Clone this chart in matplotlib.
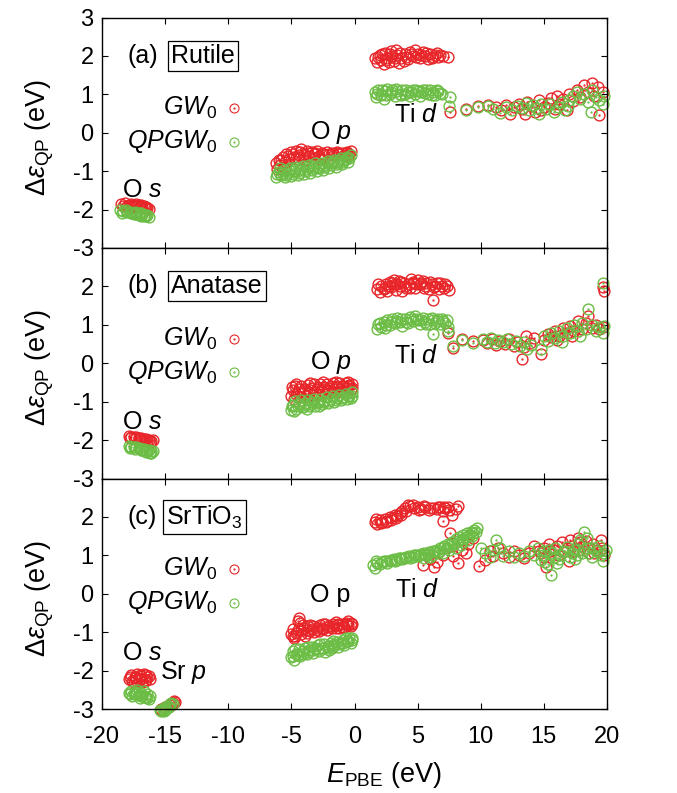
import matplotlib
matplotlib.use("Agg")
import matplotlib.pyplot as plt
import numpy as np

plt.rcParams["font.family"] = ["Liberation Sans", "DejaVu Sans"]
plt.rcParams["mathtext.fontset"] = "custom"
plt.rcParams["mathtext.rm"] = "Liberation Sans"
plt.rcParams["mathtext.it"] = "Liberation Sans:italic"
plt.rcParams["axes.unicode_minus"] = False

RED = "#e8262a"
GREEN = "#6cbd45"

# ---------------- (a) Rutile ----------------
rut_gw = [
    # O s
    (-18.5, -1.86), (-18.2, -1.84), (-17.9, -1.87), (-17.7, -1.85), (-17.5, -1.88), (-17.3, -1.86),
    (-17.1, -1.89), (-16.9, -1.87), (-16.7, -1.90), (-16.5, -1.92), (-16.4, -1.95), (-17.8, -1.92),
    (-17.4, -1.93), (-17.0, -1.94), (-16.6, -1.97), (-18.0, -1.90), (-18.3, -1.90), (-17.6, -1.90),
    (-17.2, -1.91), (-16.8, -1.93), (-16.3, -1.98),
    # O p
    (-6.2, -0.80), (-6.0, -0.70), (-5.9, -0.85), (-5.7, -0.62), (-5.5, -0.75), (-5.4, -0.55),
    (-5.2, -0.68), (-5.0, -0.50), (-4.8, -0.62), (-4.6, -0.48), (-4.4, -0.58), (-4.2, -0.42),
    (-4.0, -0.55), (-3.8, -0.47), (-3.6, -0.60), (-3.4, -0.50), (-3.2, -0.56), (-3.0, -0.48),
    (-2.8, -0.60), (-2.6, -0.52), (-2.4, -0.58), (-2.2, -0.50), (-2.0, -0.55), (-1.8, -0.52),
    (-1.6, -0.58), (-1.4, -0.50), (-1.2, -0.55), (-1.0, -0.52), (-0.8, -0.58), (-0.6, -0.50),
    (-0.4, -0.55), (-0.3, -0.48), (-4.5, -0.68), (-3.9, -0.70), (-3.3, -0.66), (-2.7, -0.68),
    (-5.6, -0.90), (-6.1, -0.95), (-5.8, -0.72), (-5.3, -0.60), (-4.9, -0.56), (-4.3, -0.50),
    (-3.7, -0.54), (-3.1, -0.54), (-2.5, -0.55), (-1.9, -0.57), (-1.3, -0.52), (-0.7, -0.54),
    (-0.5, -0.60),
    # Ti d
    (1.6, 1.95), (1.8, 1.85), (2.0, 2.02), (2.1, 1.90), (2.3, 1.80), (2.4, 2.08), (2.6, 1.95),
    (2.7, 1.85), (2.9, 2.12), (3.0, 2.00), (3.1, 1.88), (3.3, 2.15), (3.4, 2.02), (3.5, 1.82),
    (3.7, 1.95), (3.9, 1.88), (4.0, 2.05), (4.2, 1.92), (4.4, 2.10), (4.6, 2.00), (4.8, 2.15),
    (5.0, 2.05), (5.2, 1.95), (5.4, 2.10), (5.6, 2.00), (5.8, 1.92), (6.0, 2.05), (6.2, 1.98),
    (6.4, 2.03), (6.6, 1.96), (6.8, 2.02), (7.4, 1.97), (1.9, 1.98), (2.2, 2.05), (2.5, 1.90),
    (2.8, 2.05), (3.2, 1.95), (3.6, 2.08), (4.1, 1.98), (4.5, 2.05), (4.9, 1.98), (5.3, 2.02),
    (5.7, 2.08), (6.1, 1.95), (6.5, 2.08), (7.0, 2.00),
    # higher conduction states
    (7.6, 0.55), (8.8, 0.62), (9.8, 0.70), (10.6, 0.72), (11.2, 0.68), (11.6, 0.60), (12.0, 0.72),
    (12.3, 0.50), (12.6, 0.66), (13.0, 0.75), (13.3, 0.62), (13.7, 0.80), (14.0, 0.70), (14.3, 0.55),
    (14.6, 0.85), (15.0, 0.68), (15.3, 0.78), (15.6, 0.90), (15.9, 0.62), (16.2, 0.75), (16.5, 0.88),
    (16.8, 0.60), (17.0, 1.00), (17.3, 0.82), (17.6, 1.10), (17.9, 0.92), (18.2, 1.25), (18.5, 1.05),
    (18.8, 1.30), (19.0, 0.95), (19.3, 1.18), (19.4, 0.45), (19.7, 1.05), (16.0, 0.95), (14.8, 0.58),
    (13.5, 0.50),
]
rut_qp = [
    (-18.6, -2.02), (-18.3, -2.04), (-18.0, -2.06), (-17.8, -2.05), (-17.6, -2.08), (-17.4, -2.07),
    (-17.2, -2.10), (-17.0, -2.09), (-16.8, -2.12), (-16.6, -2.13), (-16.4, -2.15), (-17.5, -2.12),
    (-17.1, -2.14), (-16.9, -2.16), (-16.5, -2.18), (-18.1, -2.01), (-18.4, -2.08), (-17.7, -2.10),
    (-17.3, -2.12), (-16.7, -2.17), (-16.3, -2.19), (-16.9, -2.10),
    (-6.2, -1.15), (-6.0, -1.02), (-5.9, -0.92), (-5.8, -1.10), (-5.6, -0.98), (-5.5, -1.15),
    (-5.3, -1.05), (-5.1, -0.92), (-5.0, -1.12), (-4.8, -1.00), (-4.6, -0.88), (-4.5, -1.10),
    (-4.3, -0.98), (-4.1, -0.86), (-4.0, -1.08), (-3.8, -0.95), (-3.6, -0.84), (-3.5, -1.05),
    (-3.3, -0.92), (-3.1, -0.80), (-3.0, -1.00), (-2.8, -0.88), (-2.6, -0.78), (-2.5, -0.96),
    (-2.3, -0.85), (-2.1, -0.74), (-2.0, -0.92), (-1.8, -0.80), (-1.6, -0.70), (-1.5, -0.88),
    (-1.3, -0.76), (-1.1, -0.66), (-1.0, -0.82), (-0.8, -0.72), (-0.6, -0.62), (-0.5, -0.76),
    (-0.4, -0.66), (-0.3, -0.58), (-6.1, -1.08), (-5.7, -1.04), (-5.2, -0.98), (-4.7, -0.95),
    (-4.2, -0.92), (-3.7, -0.90), (-3.2, -0.86), (-2.7, -0.83), (-2.2, -0.80), (-1.7, -0.76),
    (-1.2, -0.72), (-0.7, -0.68), (-5.4, -1.11), (-4.9, -1.07), (-4.4, -1.04), (-3.9, -1.00),
    (-3.4, -0.96), (-2.9, -0.92), (-2.4, -0.88), (-1.9, -0.85), (-1.4, -0.81), (-0.9, -0.77),
    (1.6, 1.05), (1.7, 0.92), (1.9, 1.10), (2.1, 0.98), (2.3, 0.88), (2.4, 1.08), (2.6, 1.15),
    (2.8, 1.00), (3.0, 1.12), (3.2, 0.95), (3.4, 1.08), (3.6, 1.02), (3.8, 1.12), (4.0, 1.00),
    (4.2, 1.06), (4.4, 0.95), (4.6, 1.10), (4.8, 1.02), (5.0, 1.08), (5.2, 0.96), (5.4, 1.12),
    (5.6, 1.04), (5.8, 1.00), (6.0, 1.10), (6.2, 1.05), (6.4, 0.98), (6.6, 1.08), (6.8, 1.04),
    (1.8, 1.00), (2.2, 1.12), (2.5, 0.98), (2.9, 1.05), (3.3, 1.15), (3.7, 0.98), (4.1, 1.12),
    (4.5, 1.05), (4.9, 1.12), (5.3, 1.05), (5.7, 1.10), (6.1, 0.98), (6.5, 1.12), (6.9, 1.00),
    (7.6, 0.92), (7.5, 0.70), (8.8, 0.60), (9.8, 0.68), (10.6, 0.70), (11.0, 0.62), (11.5, 0.52),
    (12.0, 0.66), (12.5, 0.58), (12.9, 0.70), (13.3, 0.65), (13.6, 0.78), (13.8, 0.58), (14.1, 0.72),
    (14.4, 0.64), (14.6, 0.50), (14.8, 0.76), (15.2, 0.62), (15.5, 0.74), (15.8, 0.55), (16.1, 0.68),
    (16.4, 0.80), (16.7, 0.58), (17.0, 0.85), (17.3, 0.95), (17.6, 1.05), (17.9, 0.88), (18.2, 1.00),
    (18.5, 0.80), (18.8, 1.10), (19.1, 0.92), (19.4, 0.85), (19.7, 0.75), (19.8, 0.95), (18.7, 0.55),
    (16.9, 0.70),
]

# ---------------- (b) Anatase ----------------
ana_gw = [
    (-17.9, -1.90), (-17.7, -1.91), (-17.5, -1.92), (-17.3, -1.93), (-17.1, -1.94), (-16.9, -1.95),
    (-16.7, -1.97), (-16.5, -1.98), (-16.3, -2.00), (-16.1, -2.02), (-17.0, -1.98), (-16.6, -2.02),
    (-16.2, -2.05), (-16.0, -2.00), (-17.8, -1.94), (-17.4, -1.96), (-16.8, -2.00), (-16.4, -2.03),
    (-5.0, -0.85), (-4.9, -0.70), (-4.7, -0.60), (-4.6, -0.80), (-4.4, -0.68), (-4.2, -0.58),
    (-4.1, -0.78), (-3.9, -0.66), (-3.7, -0.56), (-3.6, -0.76), (-3.4, -0.64), (-3.2, -0.55),
    (-3.1, -0.74), (-2.9, -0.62), (-2.7, -0.54), (-2.6, -0.72), (-2.4, -0.62), (-2.2, -0.53),
    (-2.1, -0.70), (-1.9, -0.60), (-1.7, -0.52), (-1.6, -0.68), (-1.4, -0.60), (-1.2, -0.52),
    (-1.1, -0.66), (-0.9, -0.58), (-0.7, -0.52), (-0.6, -0.64), (-0.4, -0.56), (-0.2, -0.55),
    (-4.8, -0.92), (-4.3, -0.88), (-3.8, -0.84), (-3.3, -0.82), (-2.8, -0.80), (-2.3, -0.78),
    (-1.8, -0.76), (-1.3, -0.74), (-0.8, -0.72), (-0.3, -0.68), (-4.95, -0.62), (-4.5, -0.75),
    (-4.0, -0.72), (-3.5, -0.70), (-3.0, -0.68), (-2.5, -0.66), (-2.0, -0.64), (-1.5, -0.62),
    (-1.0, -0.60), (-0.5, -0.60), (-0.2, -0.65), (-4.6, -0.55), (-3.5, -0.52), (-2.5, -0.50),
    (-1.5, -0.50), (-0.5, -0.50),
    (1.8, 1.92), (2.0, 1.85), (2.1, 2.00), (2.3, 1.92), (2.5, 2.05), (2.6, 1.88), (2.8, 2.12),
    (2.9, 1.98), (3.1, 2.18), (3.2, 2.05), (3.3, 1.90), (3.5, 2.15), (3.6, 2.00), (3.8, 1.88),
    (3.9, 2.10), (4.1, 1.95), (4.3, 2.05), (4.5, 2.20), (4.7, 2.08), (4.8, 1.95), (5.0, 2.18),
    (5.2, 2.05), (5.4, 2.15), (5.5, 1.95), (5.7, 2.08), (5.9, 1.92), (6.1, 2.05), (6.3, 1.98),
    (6.5, 2.08), (6.7, 1.92), (6.9, 2.02), (7.1, 1.95), (7.3, 2.00), (7.5, 1.90), (6.2, 1.65),
    (1.9, 2.05), (2.4, 1.95), (2.7, 2.00), (3.0, 2.08), (3.4, 2.05), (3.7, 2.12), (4.0, 2.02),
    (4.4, 1.95), (4.6, 2.12), (4.9, 2.05), (5.3, 2.10), (5.6, 2.02), (6.0, 2.12), (6.4, 2.02),
    (6.8, 2.10), (7.2, 2.05),
    (7.4, 0.80), (7.8, 0.39), (8.5, 0.63), (9.4, 0.57), (10.2, 0.60), (10.5, 0.52), (10.9, 0.62),
    (11.2, 0.48), (11.5, 0.58), (11.9, 0.50), (12.2, 0.62), (12.6, 0.45), (12.9, 0.55), (13.3, 0.12),
    (13.4, 0.42), (13.6, 0.70), (13.9, 0.52), (14.2, 0.65), (14.8, 0.25), (15.0, 0.60), (15.3, 0.75),
    (15.6, 0.68), (15.9, 0.85), (16.2, 0.72), (16.5, 0.92), (16.8, 0.80), (17.1, 0.98), (17.4, 0.85),
    (17.7, 1.10), (18.0, 0.90), (18.3, 1.05), (18.5, 1.24), (18.8, 0.92), (19.1, 1.00), (19.4, 0.88),
    (19.7, 0.95), (19.8, 1.89), (19.7, 1.99), (16.0, 0.60), (17.2, 0.70),
]
ana_qp = [
    (-17.9, -2.16), (-17.7, -2.17), (-17.5, -2.18), (-17.3, -2.19), (-17.1, -2.21), (-16.9, -2.22),
    (-16.7, -2.24), (-16.5, -2.25), (-16.3, -2.27), (-16.1, -2.29), (-16.9, -2.27), (-16.5, -2.30),
    (-16.2, -2.33), (-16.0, -2.28), (-17.8, -2.20), (-17.4, -2.22), (-16.8, -2.26), (-16.4, -2.28),
    (-16.1, -2.33),
    (-5.0, -1.22), (-4.9, -1.08), (-4.7, -0.98), (-4.6, -1.18), (-4.4, -1.06), (-4.2, -0.96),
    (-4.1, -1.15), (-3.9, -1.04), (-3.7, -0.95), (-3.6, -1.12), (-3.4, -1.02), (-3.2, -0.93),
    (-3.1, -1.10), (-2.9, -1.00), (-2.7, -0.92), (-2.6, -1.06), (-2.4, -0.97), (-2.2, -0.89),
    (-2.1, -1.03), (-1.9, -0.94), (-1.7, -0.86), (-1.6, -1.00), (-1.4, -0.91), (-1.2, -0.83),
    (-1.1, -0.96), (-0.9, -0.88), (-0.7, -0.80), (-0.6, -0.92), (-0.4, -0.84), (-0.2, -0.76),
    (-0.3, -0.90), (-4.95, -1.12), (-4.5, -1.12), (-4.0, -1.08), (-3.5, -1.06), (-3.0, -1.03),
    (-2.5, -1.00), (-2.0, -0.98), (-1.5, -0.95), (-1.0, -0.90), (-0.5, -0.86), (-0.2, -0.84),
    (-4.8, -1.25), (-3.8, -1.18), (-2.8, -1.12),
    (1.8, 0.90), (1.9, 1.02), (2.1, 0.95), (2.3, 1.08), (2.4, 0.92), (2.6, 1.12), (2.8, 1.00),
    (3.0, 1.15), (3.2, 1.05), (3.4, 1.18), (3.6, 1.08), (3.8, 0.98), (4.0, 1.15), (4.2, 1.05),
    (4.4, 1.20), (4.6, 1.10), (4.8, 1.22), (5.0, 1.12), (5.2, 1.02), (5.4, 1.18), (5.6, 1.08),
    (5.8, 1.15), (6.0, 1.02), (6.2, 1.12), (6.4, 1.05), (6.6, 1.15), (6.8, 1.02), (7.0, 1.10),
    (7.2, 1.05), (7.4, 0.95), (6.2, 0.77), (2.0, 1.05), (2.5, 1.00), (2.9, 1.08), (3.3, 1.10),
    (3.7, 1.15), (4.1, 1.08), (4.5, 1.15), (4.9, 1.15), (5.3, 1.12), (5.7, 1.02), (6.1, 1.18),
    (6.5, 1.10), (6.9, 1.15), (7.3, 1.12),
    (7.4, 0.84), (7.8, 0.45), (8.5, 0.60), (9.4, 0.54), (10.2, 0.62), (10.5, 0.55), (10.8, 0.65),
    (11.1, 0.52), (11.4, 0.60), (11.8, 0.55), (12.1, 0.64), (12.4, 0.50), (12.8, 0.58), (13.1, 0.45),
    (13.4, 0.55), (13.7, 0.38), (14.0, 0.48), (14.8, 0.38), (15.0, 0.70), (15.3, 0.58), (15.6, 0.80),
    (15.9, 0.65), (16.2, 0.85), (16.5, 0.70), (16.8, 0.92), (17.1, 0.78), (17.4, 1.00), (17.7, 0.85),
    (18.0, 1.05), (18.3, 0.90), (18.5, 1.41), (18.8, 1.00), (19.1, 0.85), (19.4, 0.95), (19.7, 0.80),
    (19.8, 0.98), (19.7, 2.09), (16.4, 0.55), (17.9, 0.72),
]

# ---------------- (c) SrTiO3 ----------------
sto_gw = [
    (-17.9, -2.22), (-17.7, -2.12), (-17.6, -2.28), (-17.4, -2.18), (-17.2, -2.10), (-17.1, -2.25),
    (-16.9, -2.15), (-16.7, -2.08), (-16.6, -2.28), (-16.4, -2.18), (-16.2, -2.22), (-17.5, -2.30),
    (-16.8, -2.30), (-17.3, -2.24), (-16.5, -2.12), (-17.8, -2.18), (-17.3, -2.16), (-16.9, -2.22),
    (-16.5, -2.25), (-17.0, -2.12), (-16.3, -2.15),
    (-15.3, -3.00), (-15.0, -2.96), (-14.8, -2.92), (-14.6, -2.88), (-14.4, -2.84), (-14.3, -2.80),
    (-14.5, -2.90), (-14.2, -2.82),
    (-5.0, -1.05), (-4.9, -0.92), (-4.7, -1.10), (-4.5, -0.95), (-4.4, -0.62), (-4.3, -0.75),
    (-4.2, -1.05), (-4.0, -0.90), (-3.8, -1.02), (-3.7, -0.85), (-3.5, -0.96), (-3.3, -0.84),
    (-3.2, -1.00), (-3.0, -0.88), (-2.8, -0.96), (-2.7, -0.82), (-2.5, -0.92), (-2.3, -0.80),
    (-2.2, -0.94), (-2.0, -0.84), (-1.8, -0.90), (-1.7, -0.78), (-1.5, -0.88), (-1.3, -0.78),
    (-1.2, -0.88), (-1.0, -0.80), (-0.8, -0.86), (-0.7, -0.76), (-0.5, -0.82), (-0.3, -0.76),
    (-0.2, -0.80), (-4.8, -1.15), (-3.9, -1.10), (-4.9, -1.10), (-4.6, -1.02), (-4.2, -0.95),
    (-3.8, -0.95), (-3.4, -0.92), (-3.0, -0.95), (-2.6, -0.88), (-2.2, -0.86), (-1.8, -0.84),
    (-1.4, -0.82), (-1.0, -0.86), (-0.6, -0.80), (-0.3, -0.84), (-4.5, -0.70), (-4.1, -0.82),
    (-3.5, -0.82), (-2.5, -0.80), (-1.5, -0.74), (-0.5, -0.72),
    (1.6, 1.88), (1.8, 1.82), (2.0, 1.92), (2.2, 1.86), (2.4, 1.95), (2.6, 1.90), (2.8, 2.00),
    (3.0, 1.96), (3.2, 2.05), (3.4, 2.02), (3.6, 2.10), (3.8, 2.15), (4.0, 2.22), (4.2, 2.32),
    (4.4, 2.28), (4.7, 2.22), (5.0, 2.26), (5.3, 2.20), (5.6, 2.25), (5.9, 2.18), (6.2, 2.24),
    (6.5, 2.20), (6.8, 2.26), (7.0, 2.15), (7.2, 2.22), (7.5, 2.18), (7.0, 1.89), (8.2, 2.28),
    (7.7, 2.05), (1.7, 1.95), (2.1, 1.84), (2.5, 1.88), (2.9, 1.92), (3.3, 1.98), (3.7, 2.05),
    (4.1, 2.15), (4.6, 2.30), (5.1, 2.18), (5.5, 2.28), (6.0, 2.22), (6.6, 2.25), (7.1, 2.26),
    (7.4, 2.25), (8.0, 2.20),
    (5.4, 0.76), (6.0, 0.90), (6.5, 0.82), (7.0, 1.00), (7.55, 1.58), (7.8, 0.98), (8.2, 0.80),
    (8.5, 1.15), (9.0, 1.30), (9.4, 1.45), (8.8, 1.05), (6.3, 0.70),
    (9.9, 0.72), (10.3, 0.88), (10.7, 1.12), (11.0, 0.98), (11.4, 1.20), (11.8, 1.05), (12.2, 0.95),
    (12.6, 1.10), (13.0, 1.00), (13.4, 0.92), (13.8, 1.05), (14.2, 1.25), (14.6, 1.10), (15.0, 0.95),
    (15.4, 1.30), (15.8, 1.15), (16.1, 1.00), (16.4, 1.35), (16.8, 1.20), (17.1, 1.40), (17.4, 1.10),
    (17.7, 1.45), (18.0, 1.25), (18.3, 1.38), (18.6, 1.05), (18.9, 1.30), (19.2, 1.15), (19.5, 1.40),
    (19.8, 1.00), (15.2, 0.70), (17.0, 0.85), (14.8, 1.05), (15.5, 1.10), (16.0, 1.25), (16.6, 1.10),
    (17.2, 1.25), (17.8, 1.15), (18.4, 1.20), (19.0, 1.05), (19.6, 1.20), (15.0, 1.20), (17.9, 1.35),
]
sto_qp = [
    (-17.9, -2.58), (-17.7, -2.52), (-17.6, -2.66), (-17.4, -2.56), (-17.2, -2.50), (-17.1, -2.64),
    (-16.9, -2.58), (-16.7, -2.54), (-16.6, -2.70), (-16.4, -2.62), (-16.3, -2.75), (-16.2, -2.66),
    (-17.5, -2.62), (-16.8, -2.66), (-17.3, -2.60), (-17.8, -2.62), (-17.3, -2.55), (-16.9, -2.66),
    (-16.5, -2.68), (-16.4, -2.72), (-17.0, -2.72),
    (-15.4, -3.02), (-15.2, -2.99), (-15.0, -2.95), (-14.8, -2.92), (-14.6, -2.88), (-14.5, -2.85),
    (-15.1, -3.05), (-14.9, -3.00), (-15.3, -3.05), (-14.7, -2.95), (-14.4, -2.88), (-15.0, -3.02),
    (-5.0, -1.65), (-4.9, -1.50), (-4.8, -1.72), (-4.6, -1.56), (-4.4, -1.45), (-4.3, -1.62),
    (-4.1, -1.50), (-3.9, -1.40), (-3.8, -1.58), (-3.6, -1.46), (-3.4, -1.38), (-3.3, -1.54),
    (-3.1, -1.42), (-2.9, -1.34), (-2.8, -1.50), (-2.6, -1.40), (-2.4, -1.32), (-2.3, -1.52),
    (-2.1, -1.36), (-1.9, -1.28), (-1.8, -1.42), (-1.6, -1.32), (-1.4, -1.25), (-1.3, -1.38),
    (-1.1, -1.28), (-0.9, -1.20), (-0.8, -1.34), (-0.6, -1.24), (-0.4, -1.16), (-0.2, -1.14),
    (-0.3, -1.28), (-4.9, -1.62), (-4.5, -1.60), (-4.1, -1.56), (-3.7, -1.52), (-3.3, -1.46),
    (-2.9, -1.44), (-2.5, -1.42), (-2.1, -1.40), (-1.7, -1.36), (-1.3, -1.30), (-0.9, -1.28),
    (-0.5, -1.22), (-0.2, -1.20), (-4.7, -1.45), (-3.7, -1.38), (-2.7, -1.32), (-1.7, -1.24),
    (-0.7, -1.16), (-2.0, -1.46),
    (1.5, 0.76), (1.7, 0.85), (2.0, 0.78), (2.3, 0.84), (2.6, 0.80), (2.9, 0.88), (3.2, 0.85),
    (3.5, 0.92), (3.8, 0.90), (4.1, 0.96), (4.4, 0.94), (4.7, 1.00), (5.0, 0.98), (5.3, 1.04),
    (5.6, 1.02), (5.9, 1.08), (6.2, 1.10), (6.5, 1.15), (6.8, 1.20), (7.1, 1.25), (7.4, 1.30),
    (7.7, 1.36), (8.0, 1.42), (8.3, 1.48), (8.6, 1.52), (8.9, 1.58), (9.2, 1.62), (9.5, 1.66),
    (9.7, 1.70), (6.0, 0.95), (7.0, 1.05), (8.0, 1.20), (9.0, 1.40), (1.6, 0.68), (5.5, 0.92),
    (8.5, 1.35), (1.8, 0.80), (2.2, 0.82), (2.5, 0.86), (2.8, 0.84), (3.1, 0.90), (3.4, 0.88),
    (3.7, 0.94), (4.0, 0.92), (4.3, 0.98), (4.6, 0.96), (4.9, 1.02), (5.2, 1.00), (5.5, 1.06),
    (5.8, 1.04), (6.1, 1.02), (6.4, 1.10), (6.7, 1.12), (7.0, 1.18), (7.3, 1.20), (7.6, 1.26),
    (7.9, 1.30), (8.2, 1.38), (8.5, 1.42), (8.8, 1.48), (9.1, 1.52), (9.4, 1.58), (9.6, 1.62),
    (6.6, 1.05), (7.5, 1.15), (8.4, 1.28), (9.3, 1.50),
    (10.0, 1.20), (10.3, 1.05), (10.7, 0.95), (11.0, 1.15), (11.2, 1.41), (11.5, 1.19), (11.8, 0.98),
    (12.2, 1.10), (12.6, 0.95), (13.0, 1.05), (13.4, 0.98), (13.8, 1.12), (14.2, 1.02), (14.5, 1.20),
    (14.8, 0.88), (15.0, 1.10), (15.3, 0.78), (15.6, 0.50), (15.6, 1.05), (15.9, 1.18), (16.2, 0.90),
    (16.5, 1.08), (16.8, 1.22), (17.1, 0.95), (17.4, 1.15), (17.7, 1.30), (18.0, 1.05), (18.2, 1.60),
    (18.5, 1.20), (18.8, 0.95), (19.1, 1.10), (19.4, 1.25), (19.7, 0.85), (19.8, 1.05), (16.0, 0.80),
    (17.5, 0.90), (14.9, 1.00), (15.4, 1.15), (15.8, 0.95), (16.3, 1.02), (16.7, 1.10), (17.2, 1.05),
    (17.6, 1.00), (18.1, 1.15), (18.6, 1.05), (19.0, 1.20), (19.5, 1.00), (19.9, 1.15), (15.1, 0.82),
    (17.9, 1.40), (18.4, 1.45),
]

panel_tags = ["(a)", "(b)", "(c)"]
panel_names = ["Rutile", "Anatase", "SrTiO$_3$"]
series = [(rut_gw, rut_qp), (ana_gw, ana_qp), (sto_gw, sto_qp)]

# labels for each group of states: (text, x, y)
state_labels = [
    [("O $s$", -18.4, -1.5), ("O $p$", -3.5, 0.0), ("Ti $d$", 3.1, 0.46)],
    [("O $s$", -18.4, -1.54), ("O $p$", -3.5, 0.02), ("Ti $d$", 3.1, 0.19)],
    [("O $s$", -18.4, -1.53), ("Sr $p$", -15.4, -2.05), ("O p", -3.5, -0.03), ("Ti $d$", 3.2, 0.11)],
]
box_x = [-14.5, -14.5, -14.9]


def draw_points(ax, pts, color):
    x = np.array([p[0] for p in pts])
    y = np.array([p[1] for p in pts])
    ax.plot(x, y, "o", mfc="none", mec=color, ms=7.8, mew=1.0, clip_on=False)
    ax.plot(x, y, ".", color=color, ms=1.3, clip_on=False)


fig = plt.figure(figsize=(6.77, 7.93), dpi=100)
L, W = 102 / 677, 505 / 677
H = 230.5 / 793
B0 = 1 - 709 / 793

for i in range(3):
    ax = fig.add_axes([L, B0 + (2 - i) * H, W, H])
    gw, qp = series[i]
    draw_points(ax, gw, RED)
    draw_points(ax, qp, GREEN)

    ax.set_xlim(-20, 20)
    ax.set_ylim(-3, 3)
    ax.set_xticks(np.arange(-20, 21, 5))
    if i == 0:
        ax.set_yticks(np.arange(-3, 4, 1))
    else:
        ax.set_yticks(np.arange(-3, 3, 1))
    ax.tick_params(direction="in", length=4.5, width=0.8, top=True, right=True,
                   labelsize=17)
    ax.tick_params(axis="y", pad=6)
    ax.tick_params(axis="x", pad=12)
    if i < 2:
        ax.tick_params(labelbottom=False)
    for s in ax.spines.values():
        s.set_linewidth(1.0)

    # y axis title
    yc = 1 - (133 + 230.5 * i + 4) / 793
    fig.text(40 / 677, yc, r"$\mathit{\Delta}\varepsilon_{\mathrm{QP}}$ (eV)", fontsize=19.5,
             rotation=90, ha="center", va="center")

    # panel title
    ax.text(-18.0, 2.0, panel_tags[i], fontsize=18, va="center", ha="left")
    ax.text(box_x[i], 2.0, panel_names[i], fontsize=18, va="center", ha="left",
            bbox=dict(boxstyle="square,pad=0.12", fc="white", ec="black", lw=0.9))

    # key
    ax.text(-10.9, 0.64, r"$GW_0$", fontsize=18, va="center", ha="right")
    ax.text(-10.9, -0.23, r"$QPGW_0$", fontsize=18, va="center", ha="right")
    ax.plot([-9.55], [0.64], "o", mfc="none", mec=RED, ms=6.5, mew=0.8)
    ax.plot([-9.55], [0.64], ".", color=RED, ms=1.2)
    ax.plot([-9.55], [-0.23], "o", mfc="none", mec=GREEN, ms=6.5, mew=0.8)
    ax.plot([-9.55], [-0.23], ".", color=GREEN, ms=1.2)

    for txt, tx, ty in state_labels[i]:
        ax.text(tx, ty, txt, fontsize=18, va="center", ha="left")

fig.text(384 / 677, 1 - 775 / 793, r"$E_{\mathrm{PBE}}$ (eV)", fontsize=19.5,
         ha="center", va="center")

fig.savefig("out.png", dpi=100)
